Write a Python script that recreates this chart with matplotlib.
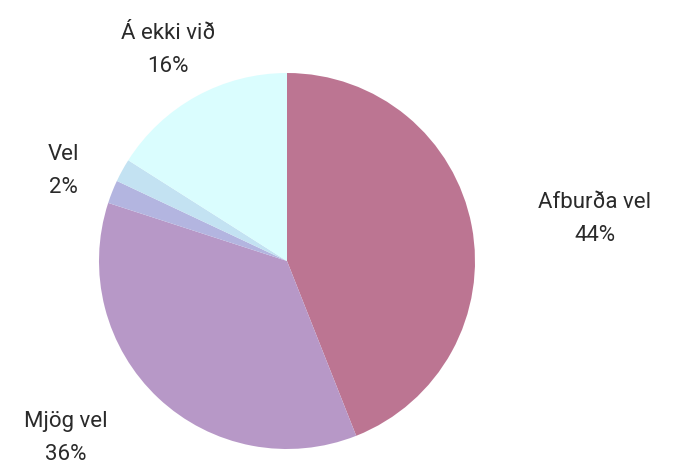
import matplotlib.pyplot as plt

# gögn
labels = ['Afburða vel', 'Mjög vel', '', 'Vel', 'Á ekki við']
values = [44, 36, 2, 2, 16]
colors = ['#BC7592', '#B798C7', '#B3B5E0', '#C3E2F2', '#DAFDFE']

label_text = ['Afburða vel\n44%', 'Mjög vel\n36%', 'Vel\n2%', 'Á ekki við\n16%']
label_x = [595, 66, 63, 168]
label_y = [219, 438, 171, 50]

W, H = 678, 468
fig = plt.figure(figsize=(W / 100, H / 100), dpi=100)
ax = fig.add_axes([0, 0, 1, 1])
ax.set_xlim(0, W)
ax.set_ylim(0, H)
ax.set_aspect('equal')
ax.axis('off')

ax.pie(values, colors=colors, startangle=90, counterclock=False,
       center=(287, H - 261), radius=188,
       wedgeprops=dict(linewidth=0))
ax.set_xlim(0, W)
ax.set_ylim(0, H)

for t, x, y in zip(label_text, label_x, label_y):
    ax.text(x, H - y, t, ha='center', va='center', fontsize=16,
            family='Roboto', color='#2a2a2a', linespacing=1.75)

fig.savefig('out.png', dpi=100)
